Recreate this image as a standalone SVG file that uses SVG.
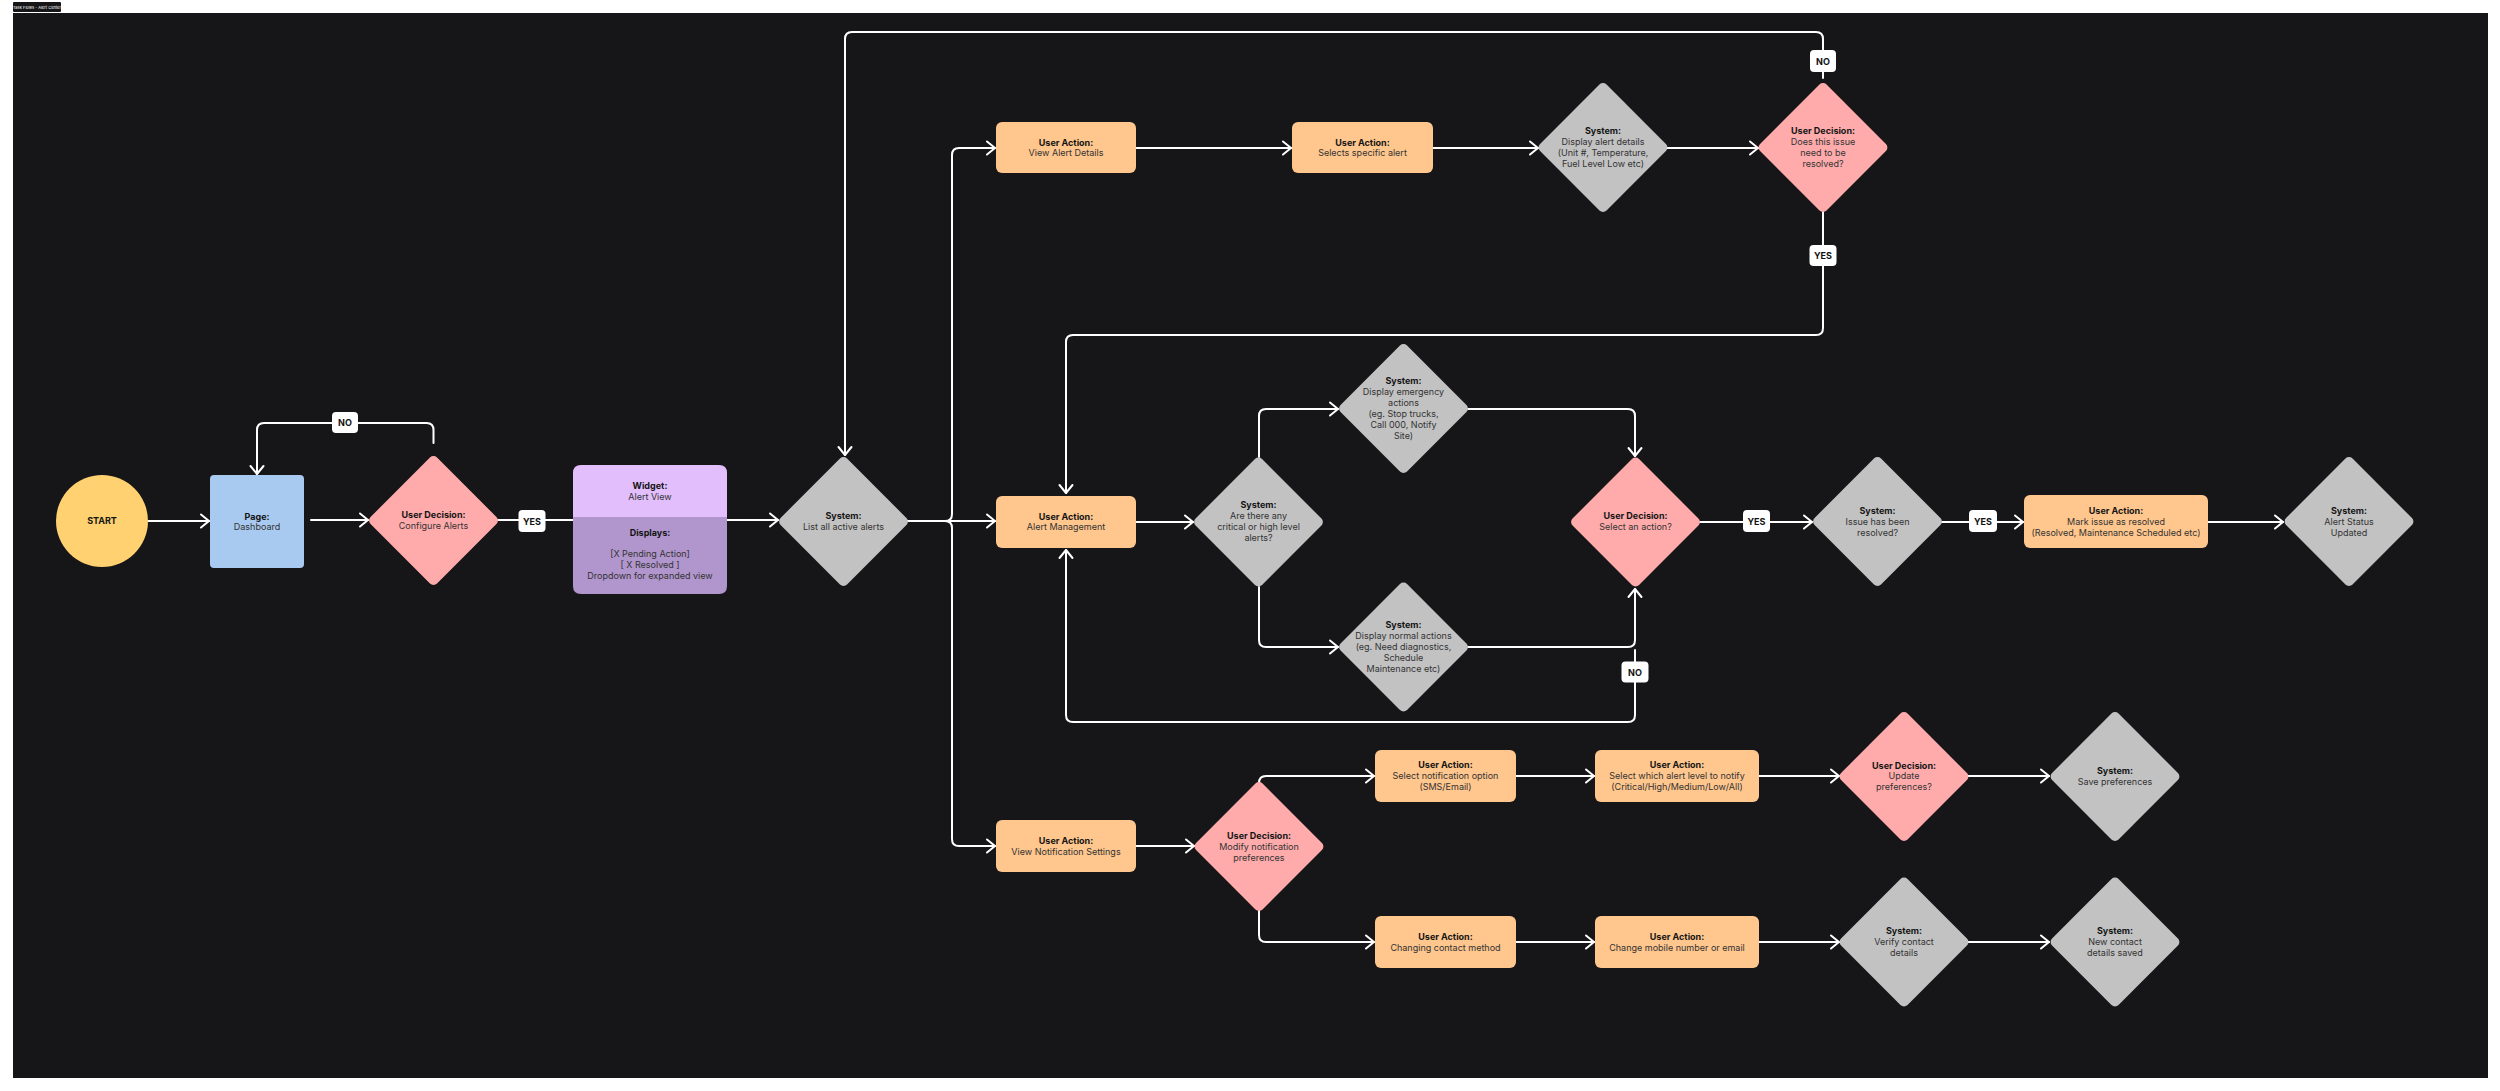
<svg xmlns="http://www.w3.org/2000/svg" width="2500" height="1091" viewBox="0 0 2500 1091">
<style>
.bg{fill:#161618}
.box{fill:#FFC68D}
.sys{fill:#C2C2C2}
.dec{fill:#FFABAB}
.t{font-family:Inter,"Liberation Sans",sans-serif;font-size:9px;text-anchor:middle}
.b{font-weight:700;fill:#141414}
.r{font-weight:400;fill:#333333}
.c{fill:none;stroke:#FFFFFF;stroke-width:2;stroke-linecap:round;stroke-linejoin:round}
.lb{fill:#FFFFFF}
.lt{font-family:Inter,"Liberation Sans",sans-serif;font-size:9px;font-weight:700;fill:#111;text-anchor:middle}
</style>
<defs>
<marker id="ah" markerUnits="userSpaceOnUse" markerWidth="12" markerHeight="16" viewBox="0 0 12 16" refX="10" refY="8" orient="auto">
<path d="M2,1.5 L10,8 L2,14.5" fill="none" stroke="#FFFFFF" stroke-width="2" stroke-linecap="round" stroke-linejoin="round"/>
</marker>
</defs>
<rect x="0" y="0" width="2500" height="1091" fill="#FFFFFF"/>
<g id="title">
<rect x="13" y="2" width="48" height="10" rx="1" fill="#161618"/>
<text x="37" y="8.5" font-family="Inter,'Liberation Sans',sans-serif" font-size="4" fill="#FFFFFF" text-anchor="middle">Task Flows - Alert Center</text>
</g>
<rect class="bg" x="13" y="13" width="2475" height="1065"/>

<g id="connectors">
<path class="c" marker-end="url(#ah)" d="M148,521 L209,521"/>
<path class="c" marker-end="url(#ah)" d="M311,520 L368,520"/>
<path class="c" marker-end="url(#ah)" d="M433.5,443 L433.5,430 Q433.5,423 426.5,423 L264,423 Q257,423 257,430 L257,474"/>
<path class="c" d="M498,520 L573,520"/>
<path class="c" marker-end="url(#ah)" d="M727,520 L778,520"/>
<path class="c" marker-end="url(#ah)" d="M908,521 L945,521 Q952,521 952,514 L952,155 Q952,148 959,148 L995,148"/>
<path class="c" marker-end="url(#ah)" d="M908,521 L995,521"/>
<path class="c" marker-end="url(#ah)" d="M908,521 L945,521 Q952,521 952,528 L952,839 Q952,846 959,846 L995,846"/>
<path class="c" marker-end="url(#ah)" d="M1136,148 L1291,148"/>
<path class="c" marker-end="url(#ah)" d="M1433,148 L1538,148"/>
<path class="c" marker-end="url(#ah)" d="M1667,148 L1758,148"/>
<path class="c" marker-end="url(#ah)" d="M1823,78 L1823,39 Q1823,32 1816,32 L852,32 Q845,32 845,39 L845,455"/>
<path class="c" marker-end="url(#ah)" d="M1823,212 L1823,328 Q1823,335 1816,335 L1073,335 Q1066,335 1066,342 L1066,493"/>
<path class="c" marker-end="url(#ah)" d="M1136,522 L1193,522"/>
<path class="c" marker-end="url(#ah)" d="M1259,457 L1259,416 Q1259,409 1266,409 L1338,409"/>
<path class="c" marker-end="url(#ah)" d="M1468,409 L1628,409 Q1635,409 1635,416 L1635,456"/>
<path class="c" marker-end="url(#ah)" d="M1259,587 L1259,640 Q1259,647 1266,647 L1338,647"/>
<path class="c" marker-end="url(#ah)" d="M1468,647 L1628,647 Q1635,647 1635,640 L1635,589"/>
<path class="c" marker-end="url(#ah)" d="M1635,650 L1635,715 Q1635,722 1628,722 L1073,722 Q1066,722 1066,715 L1066,550"/>
<path class="c" marker-end="url(#ah)" d="M1700,522 L1812,522"/>
<path class="c" marker-end="url(#ah)" d="M1942,522 L2023,522"/>
<path class="c" marker-end="url(#ah)" d="M2208,522 L2283,522"/>
<path class="c" marker-end="url(#ah)" d="M1136,846 L1194,846"/>
<path class="c" marker-end="url(#ah)" d="M1259,783 Q1259,776 1266,776 L1374,776"/>
<path class="c" marker-end="url(#ah)" d="M1259,910 L1259,935 Q1259,942 1266,942 L1374,942"/>
<path class="c" marker-end="url(#ah)" d="M1516,776 L1594,776"/>
<path class="c" marker-end="url(#ah)" d="M1759,776 L1839,776"/>
<path class="c" marker-end="url(#ah)" d="M1968,776 L2049,776"/>
<path class="c" marker-end="url(#ah)" d="M1516,942 L1594,942"/>
<path class="c" marker-end="url(#ah)" d="M1759,942 L1839,942"/>
<path class="c" marker-end="url(#ah)" d="M1968,942 L2049,942"/>
<g id="labels">
<rect class="lb" x="332" y="412" width="26" height="21" rx="4"/><text class="lt" x="345" y="426">NO</text>
<rect class="lb" x="518.5" y="510" width="27" height="22" rx="4"/><text class="lt" x="532" y="524.5">YES</text>
<rect class="lb" x="1810" y="50" width="26" height="22" rx="4"/><text class="lt" x="1823" y="64.5">NO</text>
<rect class="lb" x="1809.5" y="245" width="27" height="21" rx="4"/><text class="lt" x="1823" y="259">YES</text>
<rect class="lb" x="1743" y="510" width="27" height="22" rx="4"/><text class="lt" x="1756.5" y="524.5">YES</text>
<rect class="lb" x="1969" y="510" width="28" height="22" rx="4"/><text class="lt" x="1983" y="524.5">YES</text>
<rect class="lb" x="1621.5" y="661.5" width="27" height="21" rx="4"/><text class="lt" x="1635" y="675.5">NO</text>
</g>
</g>

<g id="start">
<circle cx="102" cy="521" r="46" fill="#FFD170"/>
<text class="t b" x="102" y="524">START</text>
</g>
<g id="dashboard">
<rect x="210" y="475" width="94" height="93" rx="4" fill="#A8CAF0"/>
<text class="t b" x="257" y="520">Page:</text>
<text class="t r" x="257" y="530">Dashboard</text>
</g>
<g id="configure">
<rect class="dec" x="-47" y="-47" width="94" height="94" rx="5" transform="translate(433.5,520.5) rotate(45)"/>
<text class="t b" x="433.5" y="518">User Decision:</text>
<text class="t r" x="433.5" y="529">Configure Alerts</text>
</g>
<g id="widget">
<path d="M573,517 V473 Q573,465 581,465 H719 Q727,465 727,473 V517 Z" fill="#E2BFFC"/>
<path d="M573,517 H727 V586 Q727,594 719,594 H581 Q573,594 573,586 Z" fill="#B196CD"/>
<text class="t b" x="650" y="489">Widget:</text>
<text class="t r" x="650" y="500">Alert View</text>
<text class="t b" x="650" y="536">Displays:</text>
<text class="t r" x="650" y="557">[X Pending Action]</text>
<text class="t r" x="650" y="568">[ X Resolved ]</text>
<text class="t r" x="650" y="579">Dropdown for expanded view</text>
</g>
<g id="list-alerts">
<rect class="sys" x="-47" y="-47" width="94" height="94" rx="5" transform="translate(843.5,521.5) rotate(45)"/>
<text class="t b" x="843.5" y="519">System:</text>
<text class="t r" x="843.5" y="530">List all active alerts</text>
</g>
<g id="view-alert-details">
<rect class="box" x="996" y="122" width="140" height="51" rx="6"/>
<text class="t b" x="1066" y="146">User Action:</text>
<text class="t r" x="1066" y="156">View Alert Details</text>
</g>
<g id="selects-alert">
<rect class="box" x="1292" y="122" width="141" height="51" rx="6"/>
<text class="t b" x="1362.5" y="146">User Action:</text>
<text class="t r" x="1362.5" y="156">Selects specific alert</text>
</g>
<g id="display-details">
<rect class="sys" x="-47" y="-47" width="94" height="94" rx="5" transform="translate(1603,147.5) rotate(45)"/>
<text class="t b" x="1603" y="134">System:</text>
<text class="t r" x="1603" y="145">Display alert details</text>
<text class="t r" x="1603" y="156">(Unit #, Temperature,</text>
<text class="t r" x="1603" y="167">Fuel Level Low etc)</text>
</g>
<g id="need-resolve">
<rect class="dec" x="-47" y="-47" width="94" height="94" rx="5" transform="translate(1823,147.5) rotate(45)"/>
<text class="t b" x="1823" y="134">User Decision:</text>
<text class="t r" x="1823" y="145">Does this issue</text>
<text class="t r" x="1823" y="156">need to be</text>
<text class="t r" x="1823" y="167">resolved?</text>
</g>
<g id="alert-management">
<rect class="box" x="996" y="496" width="140" height="52" rx="6"/>
<text class="t b" x="1066" y="520">User Action:</text>
<text class="t r" x="1066" y="530">Alert Management</text>
</g>
<g id="critical">
<rect class="sys" x="-47" y="-47" width="94" height="94" rx="5" transform="translate(1258.5,522) rotate(45)"/>
<text class="t b" x="1258.5" y="508">System:</text>
<text class="t r" x="1258.5" y="519">Are there any</text>
<text class="t r" x="1258.5" y="530">critical or high level</text>
<text class="t r" x="1258.5" y="541">alerts?</text>
</g>
<g id="emergency">
<rect class="sys" x="-47" y="-47" width="94" height="94" rx="5" transform="translate(1403.5,408.5) rotate(45)"/>
<text class="t b" x="1403.5" y="384">System:</text>
<text class="t r" x="1403.5" y="395">Display emergency</text>
<text class="t r" x="1403.5" y="406">actions</text>
<text class="t r" x="1403.5" y="417">(eg. Stop trucks,</text>
<text class="t r" x="1403.5" y="428">Call 000, Notify</text>
<text class="t r" x="1403.5" y="439">Site)</text>
</g>
<g id="normal">
<rect class="sys" x="-47" y="-47" width="94" height="94" rx="5" transform="translate(1403.5,647) rotate(45)"/>
<text class="t b" x="1403.5" y="628">System:</text>
<text class="t r" x="1403.5" y="639">Display normal actions</text>
<text class="t r" x="1403.5" y="650">(eg. Need diagnostics,</text>
<text class="t r" x="1403.5" y="661">Schedule</text>
<text class="t r" x="1403.5" y="672">Maintenance etc)</text>
</g>
<g id="select-action">
<rect class="dec" x="-47" y="-47" width="94" height="94" rx="5" transform="translate(1635.5,522) rotate(45)"/>
<text class="t b" x="1635.5" y="519">User Decision:</text>
<text class="t r" x="1635.5" y="530">Select an action?</text>
</g>
<g id="issue-resolved">
<rect class="sys" x="-47" y="-47" width="94" height="94" rx="5" transform="translate(1877.5,521.5) rotate(45)"/>
<text class="t b" x="1877.5" y="514">System:</text>
<text class="t r" x="1877.5" y="525">Issue has been</text>
<text class="t r" x="1877.5" y="536">resolved?</text>
</g>
<g id="mark-resolved">
<rect class="box" x="2024" y="495" width="184" height="53" rx="6"/>
<text class="t b" x="2116" y="514">User Action:</text>
<text class="t r" x="2116" y="525">Mark issue as resolved</text>
<text class="t r" x="2116" y="536">(Resolved, Maintenance Scheduled etc)</text>
</g>
<g id="status-updated">
<rect class="sys" x="-47" y="-47" width="94" height="94" rx="5" transform="translate(2349,521.5) rotate(45)"/>
<text class="t b" x="2349" y="514">System:</text>
<text class="t r" x="2349" y="525">Alert Status</text>
<text class="t r" x="2349" y="536">Updated</text>
</g>
<g id="view-notification">
<rect class="box" x="996" y="820" width="140" height="52" rx="6"/>
<text class="t b" x="1066" y="844">User Action:</text>
<text class="t r" x="1066" y="855">View Notification Settings</text>
</g>
<g id="modify-prefs">
<rect class="dec" x="-47" y="-47" width="94" height="94" rx="5" transform="translate(1259,846.5) rotate(45)"/>
<text class="t b" x="1259" y="839">User Decision:</text>
<text class="t r" x="1259" y="850">Modify notification</text>
<text class="t r" x="1259" y="861">preferences</text>
</g>
<g id="select-option">
<rect class="box" x="1375" y="750" width="141" height="52" rx="6"/>
<text class="t b" x="1445.5" y="768">User Action:</text>
<text class="t r" x="1445.5" y="779">Select notification option</text>
<text class="t r" x="1445.5" y="790">(SMS/Email)</text>
</g>
<g id="select-level">
<rect class="box" x="1595" y="750" width="164" height="52" rx="6"/>
<text class="t b" x="1677" y="768">User Action:</text>
<text class="t r" x="1677" y="779">Select which alert level to notify</text>
<text class="t r" x="1677" y="790">(Critical/High/Medium/Low/All)</text>
</g>
<g id="update-prefs">
<rect class="dec" x="-47" y="-47" width="94" height="94" rx="5" transform="translate(1904,776.5) rotate(45)"/>
<text class="t b" x="1904" y="769">User Decision:</text>
<text class="t r" x="1904" y="779">Update</text>
<text class="t r" x="1904" y="790">preferences?</text>
</g>
<g id="save-prefs">
<rect class="sys" x="-47" y="-47" width="94" height="94" rx="5" transform="translate(2115,776.5) rotate(45)"/>
<text class="t b" x="2115" y="774">System:</text>
<text class="t r" x="2115" y="785">Save preferences</text>
</g>
<g id="changing-contact">
<rect class="box" x="1375" y="916" width="141" height="52" rx="6"/>
<text class="t b" x="1445.5" y="940">User Action:</text>
<text class="t r" x="1445.5" y="951">Changing contact method</text>
</g>
<g id="change-mobile">
<rect class="box" x="1595" y="916" width="164" height="52" rx="6"/>
<text class="t b" x="1677" y="940">User Action:</text>
<text class="t r" x="1677" y="951">Change mobile number or email</text>
</g>
<g id="verify-contact">
<rect class="sys" x="-47" y="-47" width="94" height="94" rx="5" transform="translate(1904,942) rotate(45)"/>
<text class="t b" x="1904" y="934">System:</text>
<text class="t r" x="1904" y="945">Verify contact</text>
<text class="t r" x="1904" y="956">details</text>
</g>
<g id="contact-saved">
<rect class="sys" x="-47" y="-47" width="94" height="94" rx="5" transform="translate(2115,942) rotate(45)"/>
<text class="t b" x="2115" y="934">System:</text>
<text class="t r" x="2115" y="945">New contact</text>
<text class="t r" x="2115" y="956">details saved</text>
</g>
</svg>
